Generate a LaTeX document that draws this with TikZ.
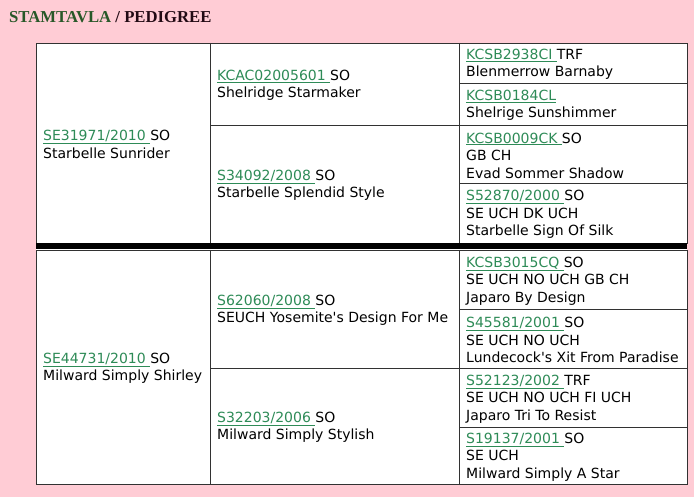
\documentclass[tikz,border=0pt]{standalone}
\usepackage{fontspec}
\setmainfont{DejaVu Sans}
\newfontfamily\titlefont{Liberation Serif}
\usepackage{tikz}
\usetikzlibrary{backgrounds}

\definecolor{bgpink}{RGB}{255,204,213}
\definecolor{lnk}{RGB}{46,139,87}
\definecolor{ttlgreen}{RGB}{40,88,40}
\definecolor{ttldark}{RGB}{34,10,20}
\definecolor{rule}{RGB}{50,50,50}

\newcommand{\reg}[1]{\textcolor{lnk}{\underline{#1\ }}}
\newcommand{\apos}{\textquotesingle}

\tikzset{
  dogtxt/.style={anchor=west, inner sep=0pt, align=left, yshift=-1.5pt,
    font=\fontsize{14}{17.5}\selectfont},
  cellrule/.style={draw=rule, line width=0.9pt}
}

\begin{document}
\begin{tikzpicture}[x=1pt, y=-1pt]
   \useasboundingbox (0,0) rectangle (694,497);
   \fill[bgpink] (0,0) rectangle (694,497);

   % title
   \node[anchor=west, inner sep=0pt, font=\titlefont\bfseries\fontsize{16.7}{18}\selectfont]
     (title) at (9,17) {\textcolor{ttlgreen}{STAMTAVLA} \textcolor{ttldark}{/ PEDIGREE}};

   % table body
   \fill[white] (36,43) rectangle (687,484);
   \begin{scope}[cellrule]
     % sire half
     \draw (36,43) rectangle (687,243);
     \draw (210,43) -- (210,243);
     \draw (459,43) -- (459,243);
     \draw (210,125) -- (687,125);
     \draw (459,83) -- (687,83);
     \draw (459,183) -- (687,183);
     % dam half
     \draw (36,250) rectangle (687,484);
     \draw (210,250) -- (210,484);
     \draw (459,250) -- (459,484);
     \draw (210,368) -- (687,368);
     \draw (459,309) -- (687,309);
     \draw (459,427) -- (687,427);
   \end{scope}
   \fill[black] (36,243.5) rectangle (687,249.5);

   % generation 1
   \node[dogtxt] (sire) at (43,143) {\reg{SE31971/2010}SO\\Starbelle Sunrider};
   \node[dogtxt] (dam) at (43,367) {\reg{SE44731/2010}SO\\Milward Simply Shirley};

   % generation 2
   \node[dogtxt] (ss) at (217,84) {\reg{KCAC02005601}SO\\Shelridge Starmaker};
   \node[dogtxt] (sd) at (217,184) {\reg{S34092/2008}SO\\Starbelle Splendid Style};
   \node[dogtxt] (ds) at (217,309) {\reg{S62060/2008}SO\\SEUCH Yosemite\apos s Design For Me};
   \node[dogtxt] (dd) at (217,426) {\reg{S32203/2006}SO\\Milward Simply Stylish};

   % generation 3
   \node[dogtxt] (sss) at (466,63) {\reg{KCSB2938CI}TRF\\Blenmerrow Barnaby};
   \node[dogtxt] (ssd) at (466,104) {\textcolor{lnk}{\underline{KCSB0184CL}}\\Shelrige Sunshimmer};
   \node[dogtxt] (sds) at (466,154) {\reg{KCSB0009CK}SO\\GB CH\\Evad Sommer Shadow};
   \node[dogtxt] (sdd) at (466,213) {\reg{S52870/2000}SO\\SE UCH DK UCH\\Starbelle Sign Of Silk};
   \node[dogtxt] (dss) at (466,279.5) {\reg{KCSB3015CQ}SO\\SE UCH NO UCH GB CH\\Japaro By Design};
   \node[dogtxt] (dsd) at (466,338.5) {\reg{S45581/2001}SO\\SE UCH NO UCH\\Lundecock\apos s Xit From Paradise};
   \node[dogtxt] (dds) at (466,397.5) {\reg{S52123/2002}TRF\\SE UCH NO UCH FI UCH\\Japaro Tri To Resist};
   \node[dogtxt] (ddd) at (466,455.5) {\reg{S19137/2001}SO\\SE UCH\\Milward Simply A Star};
 \end{tikzpicture}
\end{document}
